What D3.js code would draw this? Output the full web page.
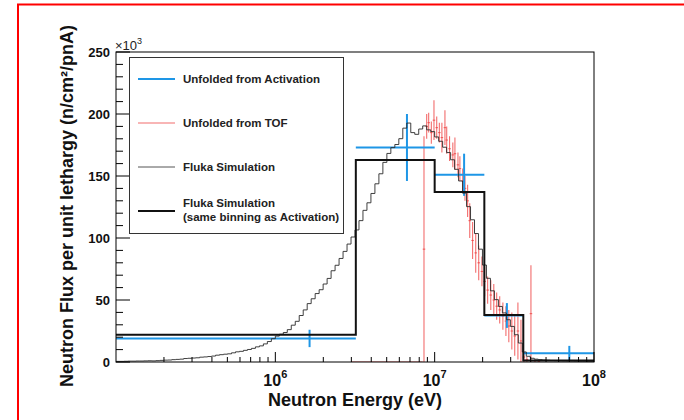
<!DOCTYPE html>
<html><head><meta charset="utf-8">
<script src="https://cdn.jsdelivr.net/npm/d3@7"></script>
<style>html,body{margin:0;padding:0;background:#fff;} svg{display:block;font-family:"Liberation Sans",Arial,sans-serif;}</style>
</head><body><svg id="c" width="684" height="420"></svg>
<script>
// ---------------- data ----------------
const xTickValues = [1e6, 1e7, 1e8];
const xTickLabels = ["6", "7", "8"];
const yTickValues = [0, 50, 100, 150, 200, 250];
const yTickLabels = ["0", "50", "100", "150", "200", "250"];
const yMultiplier = "3";

// Fluka simulation, fine binning (40 bins per decade from 1e5 to 1e8), units of 1e3
const flukaBinsPerDecade = 40;
const flukaValues = [
  0.5,0.5,0.6,0.7,0.7,0.8,0.8,0.9,1.0,0.9,
  1.1,1.3,1.5,1.6,1.9,2.1,2.3,2.8,3.0,3.2,
  3.4,3.9,4.1,4.4,4.8,5.5,5.9,6.3,6.6,7.4,
  8.2,8.6,9.4,10.1,11.0,12.2,13.0,14.6,16.5,18.8,
  20.9,22.4,23.8,26.1,29.7,32.8,37.5,42.0,47.1,51.0,
  55.2,58.3,62.9,67.4,73.6,78.0,83.5,89.2,95.1,100.8,
  106.5,114.0,122.3,128.4,135.9,143.7,151.8,161.0,168.2,172.9,
  175.4,180.1,188.6,192.7,185.0,183.6,187.9,190.4,187.2,185.8,
  181.5,178.0,173.2,168.9,163.1,155.4,146.0,136.2,125.3,114.7,
  103.6,91.0,78.2,67.5,57.4,50.3,44.8,39.6,34.1,28.7,
  22.0,15.3,8.1,4.6,3.0,2.3,1.9,1.6,1.4,1.2,
  1.1,1.0,0.9,0.8,0.8,0.7,0.6,0.6,0.5,0.5
];

// Fluka simulation, same binning as Activation
const coarseEdges = [1e5, 3.2e6, 1e7, 2.05e7, 3.6e7, 1e8];
const coarseValues = [22, 163, 137, 38, 1.3];

// Unfolded from Activation
const actLow = [1e5, 3.2e6, 1e7, 2.05e7, 3.6e7];
const actHigh = [3.2e6, 1e7, 2.05e7, 3.6e7, 1e8];
const actCenter = [1.64e6, 6.7e6, 1.53e7, 2.84e7, 7.0e7];
const actValue = [19, 173, 151, 37.5, 7];
const actError = [7, 27, 17, 10, 6];

// Unfolded from TOF
const tofZeroRange = [3.0e6, 8.4e6];
const tofEnergy = [8.57e6,8.91e6,9.17e6,9.53e6,9.90e6,1.03e7,1.07e7,1.11e7,1.16e7,1.19e7,
  1.24e7,1.30e7,1.34e7,1.40e7,1.44e7,1.50e7,1.55e7,1.61e7,1.66e7,1.73e7,
  1.81e7,1.89e7,1.98e7,2.06e7,2.15e7,2.25e7,2.35e7,2.45e7,2.56e7,2.68e7,
  2.80e7,2.92e7,3.05e7,3.18e7,3.33e7,3.48e7,3.63e7,3.79e7,4.02e7,4.26e7,4.51e7];
const tofValue = [91,190,193,185,195,189,185,181,189,179,
  172,167,168,159,156,146,140,130,114,98,
  88,80,73,65,58,54,50,45,42,37,
  33,29,25,21,25,17,4,2,39,1,0.5];
const tofError = [91,10,8,9,16,9,8,12,14,11,
  10,10,13,10,10,10,10,13,14,15,
  16,14,12,12,11,12,13,11,11,11,
  12,13,15,16,23,17,4,2,39,1,0.5];

const legendLabels = [["Unfolded from Activation"], ["Unfolded from TOF"], ["Fluka Simulation"],
  ["Fluka Simulation", "(same binning as Activation)"]];
const xTitle = "Neutron Energy (eV)";
const yTitle = "Neutron Flux per unit lethargy (n/cm\u00B2/pnA)";

// ---------------- drawing ----------------
const W = 684, H = 420;
const L = 116, R = 594, T = 52, B = 362;
const svg = d3.select("#c");
const blue = "#1e96e6", red = "rgba(238,60,60,0.75)";

svg.append("rect").attr("x", 18).attr("y", 4.5).attr("width", W + 20).attr("height", H + 20)
  .attr("fill", "none").attr("stroke", "#f00").attr("stroke-width", 2);

const x = d3.scaleLog().domain([1e5, 1e8]).range([L, R]);
const y = d3.scaleLinear().domain([0, 250]).range([B, T]);

svg.append("defs").append("clipPath").attr("id", "clip")
  .append("rect").attr("x", L).attr("y", T).attr("width", R - L).attr("height", B - T);
const plot = svg.append("g").attr("clip-path", "url(#clip)");

// TOF
plot.append("line").attr("x1", x(tofZeroRange[0])).attr("x2", x(tofZeroRange[1]))
  .attr("y1", y(0)).attr("y2", y(0)).attr("stroke", red).attr("stroke-width", 1.2);
const tofHalf = 0.008;
tofEnergy.forEach((e, i) => {
  const g = plot.append("g").attr("stroke", red).attr("stroke-width", 1.1);
  g.append("line").attr("x1", x(e)).attr("x2", x(e))
    .attr("y1", y(Math.max(0, tofValue[i] - tofError[i]))).attr("y2", y(tofValue[i] + tofError[i]));
  g.append("line").attr("x1", x(e * Math.pow(10, -tofHalf))).attr("x2", x(e * Math.pow(10, tofHalf)))
    .attr("y1", y(tofValue[i])).attr("y2", y(tofValue[i]));
});

// Activation
actValue.forEach((v, i) => {
  const g = plot.append("g").attr("stroke", blue).attr("stroke-width", 2);
  g.append("line").attr("x1", x(actLow[i])).attr("x2", x(actHigh[i])).attr("y1", y(v)).attr("y2", y(v));
  g.append("line").attr("x1", x(actCenter[i])).attr("x2", x(actCenter[i]))
    .attr("y1", y(v - actError[i])).attr("y2", y(v + actError[i]));
});

// Fluka fine
const stepPts = [];
flukaValues.forEach((v, i) => {
  stepPts.push([Math.pow(10, 5 + i / flukaBinsPerDecade), v]);
  stepPts.push([Math.pow(10, 5 + (i + 1) / flukaBinsPerDecade), v]);
});
const line = d3.line().x(d => x(d[0])).y(d => y(d[1]));
plot.append("path").attr("d", line(stepPts)).attr("fill", "none").attr("stroke", "#2a2a2a").attr("stroke-width", 0.9);

// Fluka coarse
const coarsePts = [];
coarseValues.forEach((v, i) => { coarsePts.push([coarseEdges[i], v]); coarsePts.push([coarseEdges[i + 1], v]); });
plot.append("path").attr("d", line(coarsePts)).attr("fill", "none").attr("stroke", "#111").attr("stroke-width", 2);

// frame
svg.append("rect").attr("x", L).attr("y", T).attr("width", R - L).attr("height", B - T)
  .attr("fill", "none").attr("stroke", "#000").attr("stroke-width", 1);

// x axis ticks
const xMinor = [];
for (let d = 5; d < 8; d++) for (let m = 2; m <= 9; m++) xMinor.push(m * Math.pow(10, d));
const xAx = svg.append("g").attr("stroke", "#000").attr("stroke-width", 1);
xMinor.forEach(v => xAx.append("line").attr("x1", x(v)).attr("x2", x(v)).attr("y1", B).attr("y2", B - 5));
xTickValues.forEach(v => xAx.append("line").attr("x1", x(v)).attr("x2", x(v)).attr("y1", B).attr("y2", B - 10));
xTickValues.forEach((v, i) => {
  const t = svg.append("text").attr("x", x(v)).attr("y", 386).attr("text-anchor", "middle")
    .attr("font-weight", "bold").attr("font-size", 16).attr("fill", "#111");
  t.append("tspan").text("10");
  t.append("tspan").attr("dy", -8).attr("font-size", 11).text(xTickLabels[i]);
});

// y axis ticks
const yAx = svg.append("g").attr("stroke", "#000").attr("stroke-width", 1);
d3.range(0, 251, 10).forEach(v => {
  const major = v % 50 === 0;
  yAx.append("line").attr("x1", L).attr("x2", L + (major ? 14 : 7)).attr("y1", y(v)).attr("y2", y(v));
});
yTickValues.forEach((v, i) => {
  svg.append("text").attr("x", 110).attr("y", y(v) + 4.6).attr("text-anchor", "end")
    .attr("font-weight", "bold").attr("font-size", 13).attr("fill", "#111").text(yTickLabels[i]);
});
const mt = svg.append("text").attr("x", 115).attr("y", 50).attr("font-size", 13).attr("fill", "#222");
mt.append("tspan").text("\u00D710");
mt.append("tspan").attr("dy", -6).attr("font-size", 9).text(yMultiplier);

// titles
svg.append("text").attr("x", 355).attr("y", 406).attr("text-anchor", "middle")
  .attr("font-weight", "bold").attr("font-size", 18).attr("fill", "#111").text(xTitle);
svg.append("text").attr("transform", "translate(73,206) rotate(-90)").attr("text-anchor", "middle")
  .attr("font-weight", "bold").attr("font-size", 18).attr("fill", "#111").text(yTitle);

// legend
const lg = svg.append("g");
lg.append("rect").attr("x", 129.5).attr("y", 57.5).attr("width", 214).attr("height", 176)
  .attr("fill", "#fff").attr("stroke", "#333").attr("stroke-width", 1);
const legStyles = [
  {c: blue, w: 2}, {c: red, w: 1.2}, {c: "#555", w: 1}, {c: "#111", w: 2.2}
];
const legY = [79, 123, 167, 211];
legendLabels.forEach((lines, i) => {
  lg.append("line").attr("x1", 138).attr("x2", 175).attr("y1", legY[i]).attr("y2", legY[i])
    .attr("stroke", legStyles[i].c).attr("stroke-width", legStyles[i].w);
  lines.forEach((s, j) => {
    const yy = lines.length === 1 ? legY[i] + 4 : legY[i] - 4 + j * 14;
    lg.append("text").attr("x", 183).attr("y", yy).attr("font-weight", "bold").attr("font-size", 11.5)
      .attr("fill", "#222").text(s);
  });
});
</script></body></html>
